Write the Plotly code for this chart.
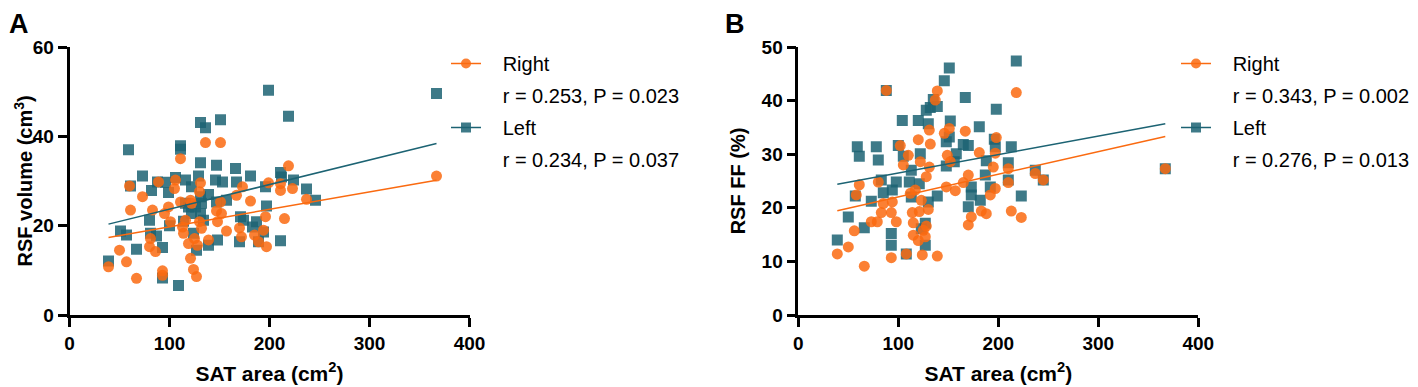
import numpy as np
import plotly.graph_objects as go

# ---------------- Data ----------------
# Panel A: RSF volume (cm3) vs SAT area (cm2)
a_left_x = [39, 51, 57, 59, 61, 67, 73, 80, 82, 81, 87, 88, 93, 93, 96, 99, 100, 106, 111, 111,
            109, 114, 116, 116, 119, 122, 126, 127, 129, 131, 131, 131, 132, 136, 139, 139, 147,
            146, 151, 148, 153, 157, 166, 167, 170, 171, 174, 181, 183, 187, 189, 194, 196, 197,
            199, 211, 211, 212, 219, 224, 237, 246, 367, 122, 131, 134, 147, 124]
a_left_y = [12.1, 18.8, 17.9, 37.0, 28.9, 14.7, 31.1, 21.2, 27.9, 18.3, 17.7, 29.8, 15.1, 8.3,
            29.7, 27.4, 20.0, 30.8, 37.9, 37.1, 6.6, 21.0, 30.2, 25.0, 24.2, 28.7, 24.2, 14.5,
            31.1, 43.1, 34.1, 22.7, 25.0, 41.9, 27.0, 15.6, 33.5, 30.2, 43.7, 16.8, 29.8, 25.7,
            32.8, 29.8, 16.4, 22.0, 21.2, 31.1, 19.7, 20.9, 16.4, 18.6, 28.7, 24.4, 50.3, 31.9,
            16.6, 30.9, 44.5, 30.2, 28.2, 25.7, 49.6, 22.7, 26.5, 21.2, 25.3, 18.3]
a_right_x = [39, 50, 57, 60, 61, 67, 73, 80, 81, 83, 86, 89, 93, 93, 95, 99, 101, 105, 106, 111,
             111, 113, 114, 116, 119, 121, 121, 122, 124, 125, 127, 128, 130, 131, 130, 132, 136,
             139, 147, 148, 151, 151, 152, 157, 167, 170, 172, 173, 181, 185, 189, 194, 196, 197,
             199, 211, 211, 215, 219, 223, 237, 367]
a_right_y = [10.8, 14.5, 11.9, 28.9, 23.5, 8.2, 26.5, 15.3, 17.1, 23.5, 14.2, 29.8, 9.9, 8.9,
             22.7, 24.2, 20.9, 28.3, 30.2, 35.0, 25.3, 19.7, 18.3, 21.2, 16.0, 25.7, 12.7, 25.0,
             10.2, 17.1, 8.6, 15.6, 20.9, 29.6, 27.6, 19.4, 38.6, 16.8, 23.3, 20.9, 38.6, 25.3,
             22.7, 18.8, 26.8, 19.5, 17.5, 28.7, 25.5, 17.9, 16.4, 19.0, 22.0, 15.3, 29.6, 29.4,
             27.9, 21.6, 33.4, 28.3, 25.9, 31.1]

# Panel B: RSF FF (%) vs SAT area (cm2)
b_left_x = [39, 50, 57, 59, 61, 66, 73, 78, 80, 83, 85, 88, 93, 93, 94, 98, 100, 104, 105, 108,
            111, 113, 113, 120, 121, 122, 123, 127, 127, 128, 132, 130, 130, 135, 139, 139, 146,
            148, 148, 151, 152, 151, 156, 158, 167, 165, 170, 170, 173, 173, 181, 182, 187, 188,
            192, 196, 197, 198, 210, 210, 213, 218, 223, 237, 245, 367]
b_left_y = [14.0, 18.3, 22.2, 31.4, 29.6, 16.3, 21.2, 31.4, 28.9, 25.2, 22.8, 41.9, 13.0, 15.2,
            23.3, 24.8, 31.6, 36.3, 29.6, 11.4, 24.8, 27.0, 22.0, 36.3, 24.5, 30.1, 16.1, 13.0,
            17.1, 38.2, 38.7, 21.1, 35.7, 40.2, 38.9, 22.2, 43.7, 32.3, 27.8, 46.1, 36.2, 33.2,
            28.6, 30.1, 40.6, 31.8, 31.6, 20.2, 22.4, 23.9, 35.1, 21.4, 26.1, 28.8, 23.9, 32.8,
            31.4, 38.4, 28.4, 25.2, 31.4, 47.4, 22.2, 27.0, 25.2, 27.3]
b_right_x = [39, 50, 56, 58, 61, 66, 73, 79, 80, 83, 85, 88, 93, 93, 94, 98, 102, 105, 108, 110,
             112, 114, 115, 115, 117, 120, 120, 121, 122, 123, 124, 125, 127, 128, 128, 130, 131,
             131, 132, 137, 139, 139, 146, 148, 149, 151, 152, 157, 165, 167, 170, 170, 173, 181,
             183, 188, 192, 195, 197, 197, 198, 210, 210, 213, 218, 223, 237, 245, 367]
b_right_y = [11.4, 12.7, 15.7, 22.4, 24.3, 9.1, 17.4, 17.4, 24.8, 19.1, 20.8, 41.9, 10.7, 19.1,
             21.1, 17.4, 31.6, 28.0, 11.4, 29.8, 22.7, 19.1, 17.2, 14.9, 23.3, 32.7, 13.9, 19.3,
             28.6, 21.4, 11.2, 15.8, 14.6, 16.6, 25.8, 19.7, 27.6, 34.5, 31.9, 40.1, 41.8, 11.0,
             33.9, 23.9, 29.8, 34.8, 28.6, 23.2, 24.7, 34.3, 26.1, 16.8, 18.3, 30.3, 19.4, 18.9,
             22.4, 27.6, 30.2, 23.6, 33.1, 27.3, 24.7, 19.4, 41.5, 18.2, 26.4, 25.2, 27.3]

# Published linear-regression fits [slope, intercept]
a_right_fit = [0.0391, 15.84]
a_left_fit = [0.0550, 18.20]
b_right_fit = [0.0422, 17.82]
b_left_fit = [0.0345, 23.03]

a_right_label = ["Right", "r = 0.253, P = 0.023"]
a_left_label = ["Left", "r = 0.234, P = 0.037"]
b_right_label = ["Right", "r = 0.343, P = 0.002"]
b_left_label = ["Left", "r = 0.276, P = 0.013"]

x_ticks = [0, 100, 200, 300, 400]
a_y_ticks = [0, 20, 40, 60]
b_y_ticks = [0, 10, 20, 30, 40, 50]

# ---------------- Styles ----------------
ORANGE = "#FA6A10"
TEAL = "#1C6373"
FONT = "Arial, Liberation Sans, sans-serif"
OFF = 8                      # default page body margin
W, H = 1418 - OFF, 387 - OFF
TOP = 47 - OFF               # plot area top (page px 47)
BOT = H - (315 - OFF)        # plot area bottom (page px 315)
PAD = "\u00a0\u00a0\u00a0"   # extra gap between legend symbol and text

fig = go.Figure()


def fit_line(xs, coef):
    xs = np.asarray(xs, float)
    xx = np.array([xs.min(), xs.max()])
    return xx, coef[0] * xx + coef[1]


def add_panel(xl, yl, xr, yr, lfit, rfit, xaxis, yaxis, legend, rlab, llab):
    fig.add_trace(go.Scatter(x=xl, y=yl, mode="markers", xaxis=xaxis, yaxis=yaxis,
                             marker=dict(symbol="square", size=11, color=TEAL, opacity=0.85),
                             showlegend=False, hoverinfo="skip"))
    fig.add_trace(go.Scatter(x=xr, y=yr, mode="markers", xaxis=xaxis, yaxis=yaxis,
                             marker=dict(symbol="circle", size=11, color=ORANGE, opacity=0.85),
                             showlegend=False, hoverinfo="skip"))
    fx, fy = fit_line(xl, lfit)
    fig.add_trace(go.Scatter(x=fx, y=fy, mode="lines", xaxis=xaxis, yaxis=yaxis,
                             line=dict(color=TEAL, width=1.5), showlegend=False, hoverinfo="skip"))
    fx, fy = fit_line(xr, rfit)
    fig.add_trace(go.Scatter(x=fx, y=fy, mode="lines", xaxis=xaxis, yaxis=yaxis,
                             line=dict(color=ORANGE, width=1.5), showlegend=False, hoverinfo="skip"))
    entries = [(rlab[0], ORANGE, "circle", 1), (rlab[1], ORANGE, "circle", 0),
               (llab[0], TEAL, "square", 1), (llab[1], TEAL, "square", 0)]
    for i, (name, col, sym, vis) in enumerate(entries):
        if vis:
            fig.add_trace(go.Scatter(x=[None], y=[None], mode="lines+markers", name=PAD + name,
                                     xaxis=xaxis, yaxis=yaxis, legend=legend,
                                     legendgroup=f"{legend}{i}",
                                     line=dict(color=col, width=1.5),
                                     marker=dict(symbol=sym, size=10, color=col, opacity=0.85)))
        else:
            fig.add_trace(go.Scatter(x=[None], y=[None], mode="markers", name=PAD + name,
                                     xaxis=xaxis, yaxis=yaxis, legend=legend,
                                     legendgroup=f"{legend}{i}",
                                     marker=dict(size=1, color="rgba(0,0,0,0)")))


add_panel(a_left_x, a_left_y, a_right_x, a_right_y, a_left_fit, a_right_fit,
          "x", "y", "legend", a_right_label, a_left_label)
add_panel(b_left_x, b_left_y, b_right_x, b_right_y, b_left_fit, b_right_fit,
          "x2", "y2", "legend2", b_right_label, b_left_label)

axis_common = dict(showline=True, linecolor="black", linewidth=2.5, ticks="outside",
                   ticklen=9, tickwidth=2.5, tickcolor="black", showgrid=False, zeroline=False,
                   automargin=False,
                   tickfont=dict(family=FONT, size=19, color="black", weight="bold"))
xtitle_font = dict(family=FONT, size=21, color="black", weight="bold")
ytitle_font = dict(family=FONT, size=20, color="black", weight="bold")

legend_common = dict(xanchor="left", yanchor="top", xref="paper", yref="container",
                     y=1 - (44 - OFF) / H, font=dict(family=FONT, size=20, color="black"),
                     tracegroupgap=3, bgcolor="rgba(0,0,0,0)", itemwidth=30)


def px_x(p):
    # page pixel column -> figure/paper x fraction (l = r = 0)
    return (p - OFF) / W


def py(p):
    # page pixel row -> paper y coordinate
    return (H - BOT - (p - OFF)) / (H - TOP - BOT)


fig.update_layout(
    width=W, height=H,
    margin=dict(l=0, r=0, t=TOP, b=BOT, autoexpand=False),
    paper_bgcolor="white", plot_bgcolor="white",
    font=dict(family=FONT, color="black"),
    xaxis=dict(domain=[px_x(69.5), px_x(469.5)], range=[0, 400], tickvals=x_ticks,
               title=dict(text="SAT area (cm<sup>2</sup>)", standoff=14, font=xtitle_font),
               anchor="y", **axis_common),
    yaxis=dict(domain=[0, 1], range=[0, 60], tickvals=a_y_ticks, anchor="x", **axis_common),
    xaxis2=dict(domain=[px_x(798.3), px_x(1198.3)], range=[0, 400], tickvals=x_ticks,
                title=dict(text="SAT area (cm<sup>2</sup>)", standoff=14, font=xtitle_font),
                anchor="y2", **axis_common),
    yaxis2=dict(domain=[0, 1], range=[0, 50], tickvals=b_y_ticks,
                title=dict(text="RSF FF (%)", standoff=11, font=ytitle_font),
                anchor="x2", **axis_common),
    legend=dict(x=px_x(446), **legend_common),
    legend2=dict(x=px_x(1176), **legend_common),
    annotations=[
        dict(text="RSF volume (cm<sup>3</sup>)", x=px_x(9), y=0.5, xref="paper", yref="paper",
             xanchor="left", yanchor="middle", textangle=-90, showarrow=False,
             borderpad=0, font=ytitle_font),
        dict(text="<b>A</b>", x=px_x(8), y=py(8), xref="paper", yref="paper", xanchor="left",
             yanchor="top", showarrow=False, borderpad=0,
             font=dict(family=FONT, size=27, color="black")),
        dict(text="<b>B</b>", x=px_x(724), y=py(8), xref="paper", yref="paper", xanchor="left",
             yanchor="top", showarrow=False, borderpad=0,
             font=dict(family=FONT, size=27, color="black")),
    ],
)

fig.write_html("out.html")
